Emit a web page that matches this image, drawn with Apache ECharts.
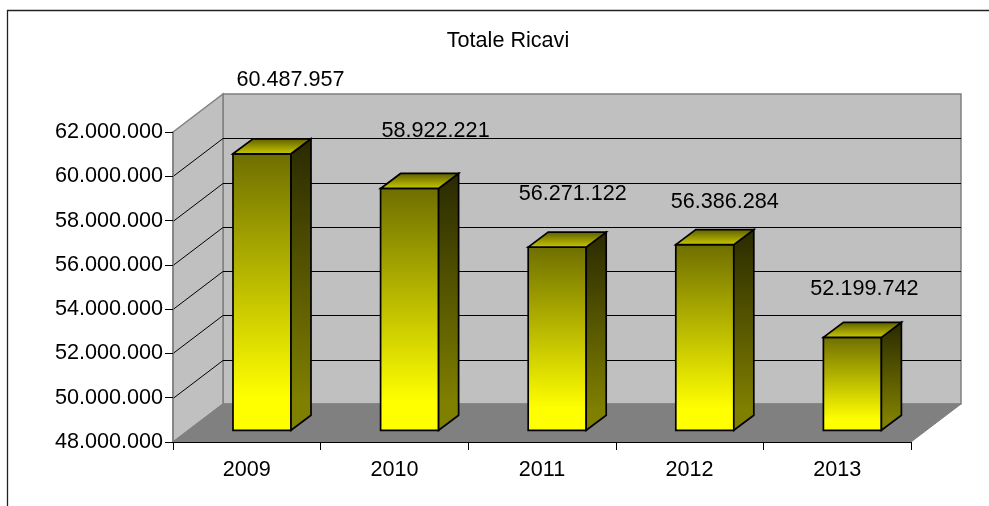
<!DOCTYPE html>
<html>
<head>
<meta charset="utf-8">
<style>html,body{margin:0;padding:0;background:#fff}#c{width:989px;height:506px}</style>
<script src="https://cdn.jsdelivr.net/npm/echarts@6/dist/echarts.min.js"></script>
</head>
<body>
<div id="c"></div>
<script>
var titleText = 'Totale Ricavi';
var categories = ['2009', '2010', '2011', '2012', '2013'];
var ricavi = [60487957, 58922221, 56271122, 56386284, 52199742];
var yTicks = [48000000, 50000000, 52000000, 54000000, 56000000, 58000000, 60000000, 62000000];

// layout constants (pixels), separate from the data
var wallDepth = [50, -38];
var barInset = [15.2, -11.7];
var barDepth = [20, -15];
var barRatio = 0.393;
var labelNudge = [[28.5, -85], [26, -69.5], [15.5, -64.5], [20, -54.5], [12, -60]];
var FONT = '"Liberation Sans", Arial, sans-serif';
var FS = 21.6;

function dotted(v) { return String(v).replace(/\B(?=(\d{3})+(?!\d))/g, '.'); }
function vGrad(stops) {
  return { type: 'linear', x: 0, y: 0, x2: 0, y2: 1,
    colorStops: stops.map(function (s) { return { offset: s[0], color: s[1] }; }) };
}
function poly(points, fill, stroke, lw, extra) {
  return { type: 'polygon', shape: { points: points },
    style: { fill: fill, stroke: stroke, lineWidth: lw, lineJoin: 'miter' }, silent: true, z2: extra || 0 };
}
function seg(a, b, color, lw, z2) {
  return { type: 'line', shape: { x1: a[0], y1: a[1], x2: b[0], y2: b[1] },
    style: { stroke: color, lineWidth: lw }, silent: true, z2: z2 || 0 };
}

function renderWalls(params, api) {
  var band = api.size([1, 0])[0];
  var x0 = api.coord([0, yTicks[0]])[0] - band / 2;
  var x1 = x0 + band * categories.length;
  var dx = wallDepth[0], dy = wallDepth[1];
  var yB = api.coord([0, yTicks[0]])[1];
  var yT = api.coord([0, yTicks[yTicks.length - 1]])[1];
  var kids = [
    poly([[x0 + dx, yT + dy], [x1 + dx, yT + dy], [x1 + dx, yB + dy], [x0 + dx, yB + dy]], '#c0c0c0', '#808080', 1.5),
    poly([[x0, yT], [x0 + dx, yT + dy], [x0 + dx, yB + dy], [x0, yB]], '#c0c0c0', '#808080', 1.5),
    poly([[x0, yB], [x0 + dx, yB + dy], [x1 + dx, yB + dy], [x1, yB]], '#808080', '#808080', 1)
  ];
  yTicks.slice(1, -1).forEach(function (t) {
    var y = Math.round(api.coord([0, t])[1]) + 0.5;
    kids.push(seg([x0, y], [x0 + dx, y + dy], '#000', 1, 2));
    kids.push(seg([x0 + dx, y + dy], [x1 + dx, y + dy], '#000', 1, 2));
  });
  return { type: 'group', children: kids };
}

function renderBar(params, api) {
  var i = api.value(0), v = api.value(1);
  var top = api.coord([i, v]);
  var base = api.coord([i, yTicks[0]]);
  var band = api.size([1, 0])[0];
  var w = band * barRatio;
  var xl = top[0] + barInset[0] - w / 2, xr = xl + w;
  var yt = top[1] + barInset[1], yb = base[1] + barInset[1];
  var dx = barDepth[0], dy = barDepth[1];
  var nudge = labelNudge[params.dataIndex];
  return { type: 'group', children: [
    poly([[xl, yt], [xr, yt], [xr, yb], [xl, yb]],
      vGrad([[0, '#6e6e00'], [0.88, '#ffff00'], [1, '#ffff00']]), '#000', 1.7, 2),
    poly([[xr, yt], [xr + dx, yt + dy], [xr + dx, yb + dy], [xr, yb]],
      vGrad([[0, '#292900'], [0.9, '#808000'], [1, '#808000']]), '#000', 1.7, 2),
    poly([[xl, yt], [xl + dx, yt + dy], [xr + dx, yt + dy], [xr, yt]],
      vGrad([[0, '#5c5c00'], [1, '#cccc00']]), '#000', 1.7, 2),
    { type: 'text', silent: true, z2: 5,
      x: top[0] + barInset[0] + nudge[0], y: top[1] + nudge[1],
      style: { text: dotted(v), fill: '#000', font: FS + 'px ' + FONT, align: 'center', verticalAlign: 'middle' } }
  ] };
}

var chart = echarts.init(document.getElementById('c'), null, { renderer: 'canvas' });
chart.setOption({
  animation: false,
  backgroundColor: '#fff',
  title: { text: titleText, left: 503, top: 25, textAlign: 'center',
    textStyle: { fontFamily: FONT, fontSize: FS, fontWeight: 'normal', color: '#000' } },
  grid: { left: 173, top: 132, width: 738, height: 310 },
  graphic: [{ type: 'polyline', silent: true, z: 100,
    shape: { points: [[7.5, 506], [7.5, 10.5], [989, 10.5]] },
    style: { fill: null, stroke: '#222', lineWidth: 1.3 } }],
  xAxis: { type: 'category', data: categories, z: 10,
    axisLine: { show: true, lineStyle: { color: '#000', width: 1 } },
    axisTick: { show: true, length: 8, alignWithLabel: false, lineStyle: { color: '#000' } },
    axisLabel: { margin: 17, color: '#000', fontFamily: FONT, fontSize: FS, interval: 0 },
    splitLine: { show: false } },
  yAxis: { type: 'value', min: 48000000, max: 62000000, interval: 2000000, z: 10,
    axisLine: { show: true, lineStyle: { color: '#808080', width: 1.5 } },
    axisTick: { show: true, length: 8, lineStyle: { color: '#000' } },
    axisLabel: { margin: 10, color: '#000', fontFamily: FONT, fontSize: FS, formatter: dotted },
    splitLine: { show: false } },
  series: [
    { type: 'custom', name: 'walls', z: 2, clip: false, silent: true,
      data: [[0, yTicks[0]]], encode: { x: 0, y: 1 }, renderItem: renderWalls },
    { type: 'custom', name: 'Totale Ricavi', z: 3, clip: false, silent: true,
      data: ricavi.map(function (v, i) { return [i, v]; }), encode: { x: 0, y: 1 }, renderItem: renderBar }
  ]
});
</script>
</body>
</html>
